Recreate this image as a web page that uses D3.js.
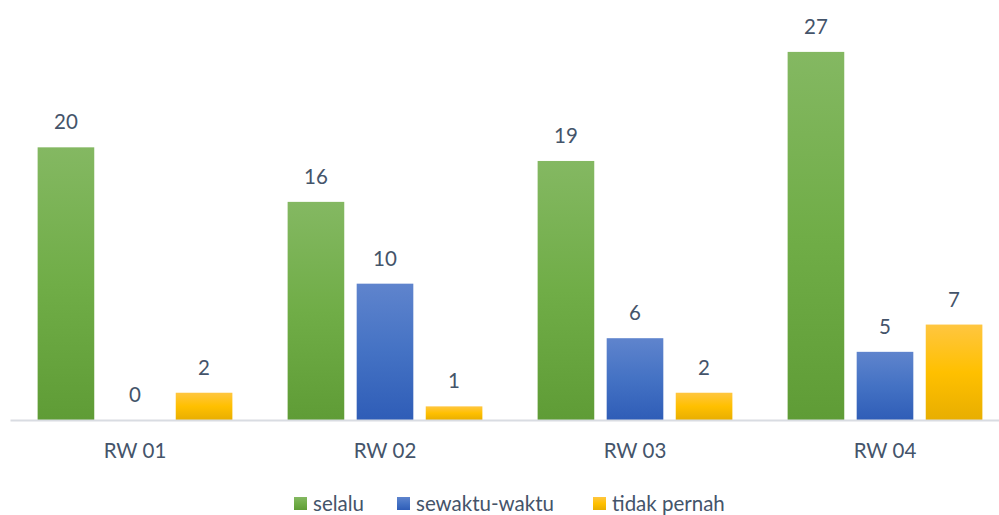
<!DOCTYPE html>
<html>
<head>
<meta charset="utf-8">
<script src="https://cdn.jsdelivr.net/npm/d3@7"></script>
<style>
  html, body { margin: 0; padding: 0; background: #fff; }
  svg { display: block; }
  text { font-family: Lato, "Open Sans", sans-serif; fill: #44546A; }
</style>
</head>
<body>
<svg id="chart" width="999" height="515"></svg>
<script>
// Chart data
const categories = ["RW 01", "RW 02", "RW 03", "RW 04"];
const seriesNames = ["selalu", "sewaktu-waktu", "tidak pernah"];
const selalu = [20, 16, 19, 27];
const sewaktuWaktu = [0, 10, 6, 5];
const tidakPernah = [2, 1, 2, 7];

const seriesValues = [selalu, sewaktuWaktu, tidakPernah];
const gradients = [
  ["#84B862", "#70AD47", "#5F9C36"],
  ["#5F84CD", "#4472C4", "#2F5DB7"],
  ["#FFC640", "#FFC000", "#E8AE00"]
];
const fontSize = 20.5;

const svg = d3.select("#chart");
const W = 999, H = 515;
const margin = { left: 10, right: -11, top: 11, bottom: 95 };
const plotBottom = H - margin.bottom;

const x0 = d3.scaleBand().domain(categories).range([margin.left, W - margin.right]).padding(0);
const x1 = d3.scaleBand().domain(seriesNames).range([0, x0.bandwidth()])
  .paddingInner(0.18).paddingOuter(0.40);
const y = d3.scaleLinear().domain([0, 30]).range([plotBottom, margin.top]);

// Gradient fills, one per series
const defs = svg.append("defs");
seriesNames.forEach((s, i) => {
  const g = defs.append("linearGradient").attr("id", "grad" + i)
    .attr("x1", 0).attr("y1", 0).attr("x2", 0).attr("y2", 1);
  g.append("stop").attr("offset", "0%").attr("stop-color", gradients[i][0]);
  g.append("stop").attr("offset", "50%").attr("stop-color", gradients[i][1]);
  g.append("stop").attr("offset", "100%").attr("stop-color", gradients[i][2]);
});

// Bars and value labels
const groups = svg.append("g").selectAll("g").data(categories).join("g")
  .attr("transform", d => `translate(${x0(d)},0)`);

groups.each(function (cat, ci) {
  const g = d3.select(this);
  seriesNames.forEach((s, si) => {
    const v = seriesValues[si][ci];
    if (v > 0) {
      g.append("rect")
        .attr("x", x1(s))
        .attr("y", y(v))
        .attr("width", x1.bandwidth())
        .attr("height", y(0) - y(v))
        .attr("fill", `url(#grad${si})`);
    }
    g.append("text")
      .attr("x", x1(s) + x1.bandwidth() / 2)
      .attr("y", y(v) - 18)
      .attr("text-anchor", "middle")
      .attr("font-size", fontSize)
      .text(v);
  });
});

// Category axis
const xAxis = svg.append("g").attr("transform", `translate(0,${plotBottom})`)
  .call(d3.axisBottom(x0).tickSize(0).tickPadding(23));
xAxis.select(".domain").attr("stroke", "#D9DCE2").attr("stroke-width", 2);
xAxis.selectAll("text").attr("font-size", fontSize).attr("fill", "#44546A")
  .style("font-family", "Lato, 'Open Sans', sans-serif");

// Legend
const legendItems = [
  { name: seriesNames[0], x: 294 },
  { name: seriesNames[1], x: 397 },
  { name: seriesNames[2], x: 593 }
];
const legend = svg.append("g");
legendItems.forEach((it, i) => {
  legend.append("rect").attr("x", it.x).attr("y", 497).attr("width", 13).attr("height", 13)
    .attr("fill", `url(#grad${i})`);
  legend.append("text").attr("x", it.x + 19).attr("y", 511).attr("font-size", fontSize).text(it.name);
});
</script>
</body>
</html>
